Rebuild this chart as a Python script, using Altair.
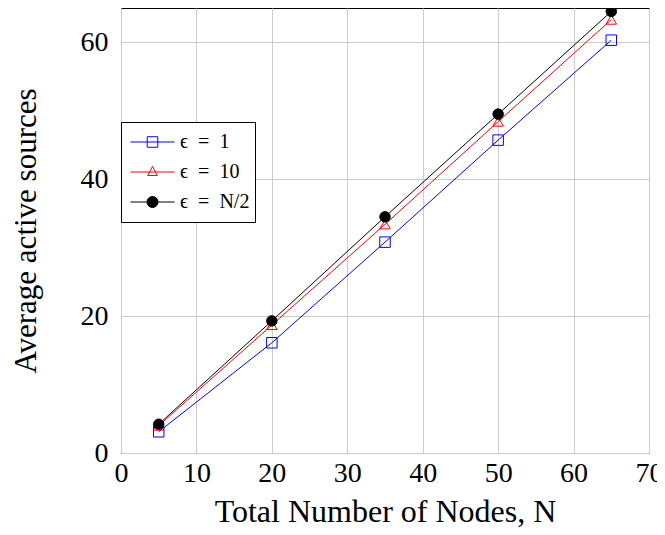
import altair as alt
import pandas as pd

# ---- data ----
nodes = [5, 20, 35, 50, 65]
eps_1 = [3.1, 16.1, 30.8, 45.7, 60.3]
eps_10 = [4.0, 18.7, 33.4, 48.4, 63.3]
eps_half = [4.2, 19.3, 34.5, 49.5, 64.5]
series_names = ["ϵ\u2002=\u20021", "ϵ\u2002=\u200210", "ϵ\u2002=\u2002N/2"]
series_colors = ["#0000ff", "#ff0000", "#000000"]
series_shapes = ["square", "triangle-up", "circle"]
series_fills = ["transparent", "transparent", "#000000"]
x_ticks = [0, 10, 20, 30, 40, 50, 60, 70]
y_ticks = [0, 20, 40, 60]

# legend glyphs: a short line with the series marker on it
legend_shapes = [
    "M-1,0H1M-0.24,-0.24H0.24V0.24H-0.24Z",
    "M-1,0H1M0,-0.25L0.22,0.16H-0.22Z",
    "M-1,0H1M0.25,0A0.25,0.25 0 1,1 -0.25,0A0.25,0.25 0 1,1 0.25,0Z",
]

rows = []
for name, vals in zip(series_names, [eps_1, eps_10, eps_half]):
    for n, v in zip(nodes, vals):
        rows.append({"N": n, "value": v, "series": name})
df = pd.DataFrame(rows)

FONT = "Liberation Serif"

x_enc = alt.X(
    "N:Q",
    scale=alt.Scale(domain=[0, 70], nice=False),
    axis=alt.Axis(
        values=x_ticks, title="Total Number of Nodes, N", grid=True,
        gridColor="#cccccc", domain=False, ticks=False,
        labelFont=FONT, labelFontSize=28, labelColor="black", labelPadding=6,
        titleFont=FONT, titleFontSize=32, titleFontWeight="normal",
        titleColor="black", titlePadding=9, labelFlush=False,
    ),
)
y_enc = alt.Y(
    "value:Q",
    scale=alt.Scale(domain=[0, 65], nice=False),
    axis=alt.Axis(
        values=y_ticks, title="Average active sources", grid=True,
        gridColor="#cccccc", domain=False, ticks=False,
        labelFont=FONT, labelFontSize=28, labelColor="black", labelPadding=13,
        titleFont=FONT, titleFontSize=31, titleFontWeight="normal",
        titleColor="black", titlePadding=38, labelFlush=False,
    ),
)

lines = alt.Chart(df).mark_line(strokeWidth=1).encode(
    x=x_enc,
    y=y_enc,
    color=alt.Color("series:N", scale=alt.Scale(domain=series_names, range=series_colors), legend=None),
    detail="series:N",
)

points = alt.Chart(df).mark_point(filled=False, size=110, strokeWidth=1, opacity=1).encode(
    x=x_enc,
    y=y_enc,
    color=alt.Color("series:N", scale=alt.Scale(domain=series_names, range=series_colors), legend=None),
    shape=alt.Shape("series:N", scale=alt.Scale(domain=series_names, range=series_shapes), legend=None),
    fill=alt.Fill("series:N", scale=alt.Scale(domain=series_names, range=series_fills), legend=None),
)

legend = alt.Legend(
    title=None,
    orient="none",
    legendX=0,
    legendY=114,
    fillColor="white",
    strokeColor="black",
    padding=5,
    cornerRadius=0,
    clipHeight=30,
    rowPadding=0,
    symbolSize=1936,
    symbolStrokeWidth=1,
    symbolOffset=4,
    symbolOpacity=1,
    labelOffset=5,
    labelFont=FONT,
    labelFontSize=20,
    labelColor="black",
)

legend_src = alt.Chart(df).mark_point(filled=False, size=1936, strokeWidth=1, opacity=0).encode(
    x=x_enc,
    y=y_enc,
    color=alt.Color("series:N", scale=alt.Scale(domain=series_names, range=series_colors), legend=legend),
    shape=alt.Shape("series:N", scale=alt.Scale(domain=series_names, range=legend_shapes), legend=legend),
    fill=alt.Fill("series:N", scale=alt.Scale(domain=series_names, range=series_fills), legend=legend),
)

chart = alt.layer(lines, points, legend_src).resolve_scale(
    color="independent", shape="independent", fill="independent"
).properties(
    width=528,
    height=445,
    padding={"left": 113, "top": 0, "right": 8, "bottom": 74},
    autosize=alt.AutoSizeParams(type="none"),
).configure_view(
    stroke="black", strokeWidth=1
)

chart.save("out.html", embed_options={"renderer": "svg", "actions": False})
